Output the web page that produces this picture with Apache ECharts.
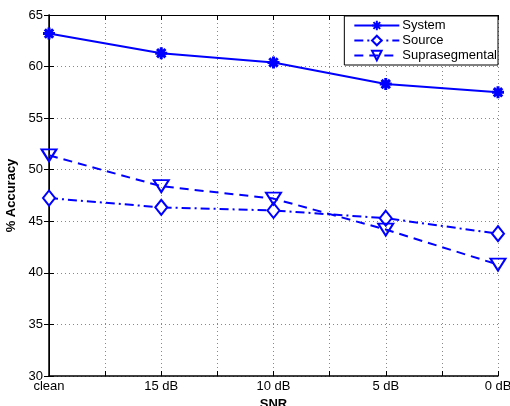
<!DOCTYPE html>
<html>
<head>
  <meta charset="utf-8">
  <title>SNR accuracy</title>
  <script src="https://cdn.jsdelivr.net/npm/echarts@6/dist/echarts.min.js"></script>
</head>
<body style="margin:0">
  <div id="chart" style="width:510px;height:406px;"></div>
  <script>
    // categories along x
    var snrLabels = ['clean', '15 dB', '10 dB', '5 dB', '0 dB'];
    var systemAcc = [63.2, 61.3, 60.4, 58.3, 57.5];
    var sourceAcc = [47.25, 46.35, 46.05, 45.3, 43.8];
    var supraAcc = [51.4, 48.4, 47.2, 44.2, 40.8];

    function pairs(arr) {
      return arr.map(function (v, i) { return [i, v]; });
    }

    var blue = '#0000ff';
    var chart = echarts.init(document.getElementById('chart'));
    var tickStyle = { inside: true, length: 5, lineStyle: { color: '#000' } };
    var gridLine = { show: true, lineStyle: { color: '#888', type: [1, 3], width: 1 } };
    var star = 'path://M0 -10 L0 10 M-10 0 L10 0 M-7 -7 L7 7 M-7 7 L7 -7';

    var option = {
      animation: false,
      textStyle: { fontFamily: 'Liberation Sans, Arial, sans-serif' },
      grid: { left: 49, right: 12, top: 15, bottom: 30, outerBoundsMode: 'none', containLabel: false },
      legend: {
        orient: 'vertical',
        right: 12,
        top: 16,
        padding: [3, 1, 3, 9],
        itemGap: 2,
        itemWidth: 45,
        itemHeight: 12,
        backgroundColor: '#fff',
        borderColor: '#000',
        borderWidth: 1,
        textStyle: { fontSize: 13, color: '#000', padding: [0, 0, 0, -2] },
        data: ['System', 'Source', 'Suprasegmental']
      },
      xAxis: [{
        type: 'value',
        min: 0,
        max: 4,
        interval: 0.5,
        name: 'SNR',
        nameLocation: 'middle',
        nameGap: 16,
        nameTextStyle: { fontWeight: 'bold', fontSize: 13, color: '#000' },
        axisLine: { lineStyle: { color: '#000', width: 1.5 } },
        axisTick: tickStyle,
        splitLine: gridLine,
        axisLabel: {
          color: '#000', fontSize: 13, margin: 4,
          formatter: function (v) { return Number.isInteger(v) ? snrLabels[v] : ''; }
        }
      }, {
        type: 'value', position: 'top', min: 0, max: 4, interval: 0.5,
        axisLine: { show: true, lineStyle: { color: '#000', width: 1 } },
        axisTick: tickStyle, axisLabel: { show: false }, splitLine: { show: false }
      }],
      yAxis: [{
        type: 'value',
        min: 30,
        max: 65,
        interval: 5,
        name: '% Accuracy',
        nameLocation: 'middle',
        nameGap: 27,
        nameTextStyle: { fontWeight: 'bold', fontSize: 13, color: '#000' },
        axisLine: { show: true, lineStyle: { color: '#000', width: 1.5 } },
        axisTick: tickStyle,
        splitLine: gridLine,
        axisLabel: { color: '#000', fontSize: 13, margin: 6 }
      }, {
        type: 'value', position: 'right', min: 30, max: 65, interval: 5,
        axisLine: { show: true, lineStyle: { color: '#000', width: 1 } },
        axisTick: tickStyle, axisLabel: { show: false }, splitLine: { show: false }
      }],
      series: [{
        name: 'System',
        type: 'line',
        data: pairs(systemAcc),
        symbol: star,
        symbolSize: 12,
        itemStyle: { color: blue, borderColor: blue, borderWidth: 3 },
        lineStyle: { color: blue, width: 2 }
      }, {
        name: 'Source',
        type: 'line',
        data: pairs(sourceAcc),
        symbol: 'diamond',
        symbolSize: [12, 15],
        itemStyle: { color: '#fff', borderColor: blue, borderWidth: 2 },
        lineStyle: { color: blue, width: 2, type: [9, 4, 2, 4] }
      }, {
        name: 'Suprasegmental',
        type: 'line',
        data: pairs(supraAcc),
        symbol: 'triangle',
        symbolRotate: 180,
        symbolSize: [15, 12],
        itemStyle: { color: 'rgba(255,255,255,0)', borderColor: blue, borderWidth: 2 },
        lineStyle: { color: blue, width: 2, type: [9, 6] }
      }]
    };
    chart.setOption(option);
  </script>
</body>
</html>
